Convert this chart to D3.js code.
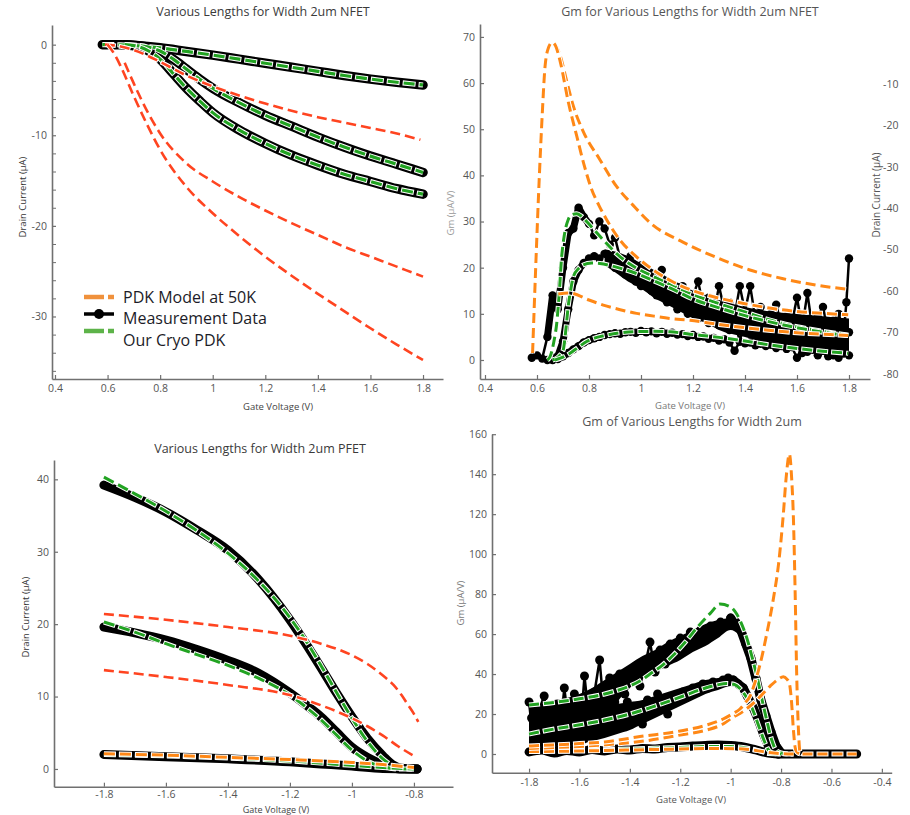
<!DOCTYPE html>
<html><head><meta charset="utf-8">
<script src="https://cdn.jsdelivr.net/npm/d3@7"></script>
<style>body{margin:0;background:#fff}svg{display:block}text{font-family:"Open Sans",sans-serif}</style>
</head><body><svg id="c" width="910" height="815"></svg>
<script>
// ---------- Panel 1: NFET Id ----------
const p1Title = "Various Lengths for Width 2um NFET";
const p1xTicks = [0.4,0.6,0.8,1,1.2,1.4,1.6,1.8];
const p1yTicks = [0,-10,-20,-30];
const p1MeasA = [[0.58,0],[0.6,0],[0.65,-0.02],[0.7,-0.1],[0.8,-0.35],[0.9,-0.75],[1.0,-1.15],[1.1,-1.6],[1.2,-2.05],[1.3,-2.5],[1.4,-2.95],[1.5,-3.4],[1.6,-3.8],[1.7,-4.15],[1.8,-4.45]];
const p1MeasB = [[0.665,0],[0.7,-0.05],[0.75,-0.25],[0.8,-0.7],[0.85,-1.6],[0.9,-2.7],[0.95,-3.8],[1.0,-4.8],[1.1,-6.4],[1.2,-7.8],[1.3,-9.0],[1.4,-10.2],[1.5,-11.3],[1.6,-12.3],[1.7,-13.2],[1.8,-14.1]];
const p1MeasC = [[0.665,0],[0.7,-0.1],[0.75,-0.6],[0.8,-1.6],[0.85,-3.2],[0.9,-4.8],[0.95,-6.2],[1.0,-7.5],[1.1,-9.4],[1.2,-10.9],[1.3,-12.2],[1.4,-13.3],[1.5,-14.3],[1.6,-15.1],[1.7,-15.9],[1.8,-16.5]];
const p1PdkD = [[0.59,0],[0.65,-0.2],[0.7,-0.6],[0.8,-1.9],[0.9,-3.4],[1.0,-4.6],[1.1,-5.6],[1.2,-6.5],[1.3,-7.3],[1.4,-8.0],[1.5,-8.6],[1.6,-9.2],[1.7,-9.8],[1.79,-10.5]];
const p1PdkE = [[0.665,-2.0],[0.7,-4.3],[0.75,-7.3],[0.8,-9.8],[0.9,-13.1],[1.0,-15.1],[1.1,-16.8],[1.2,-18.3],[1.3,-19.7],[1.4,-21.0],[1.5,-22.3],[1.6,-23.4],[1.7,-24.5],[1.8,-25.6]];
const p1PdkF = [[0.6,0],[0.625,-1.0],[0.65,-2.4],[0.7,-5.7],[0.75,-8.8],[0.8,-11.6],[0.9,-15.7],[1.0,-18.6],[1.1,-21.1],[1.2,-23.4],[1.3,-25.5],[1.4,-27.5],[1.5,-29.4],[1.6,-31.3],[1.7,-33.1],[1.8,-34.8]];

// ---------- Panel 2: NFET Gm ----------
const p2Title = "Gm for Various Lengths for Width 2um NFET";
const p2xTicks = [0.4,0.6,0.8,1,1.2,1.4,1.6,1.8];
const p2yTicks = [0,10,20,30,40,50,60,70];
const p2RightTicks = [-10,-20,-30,-40,-50,-60,-70,-80];
const p2PdkO1 = [[0.583,1.5],[0.595,20],[0.609,39.8],[0.62,53],[0.631,63.6],[0.645,67.8],[0.658,68.8],[0.672,68.2],[0.69,65.8],[0.714,60.5],[0.74,55],[0.778,49.5],[0.842,43.4],[0.906,37.6],[0.97,33.5],[1.04,29.5],[1.163,25.5],[1.291,22.2],[1.419,19.5],[1.547,17.6],[1.676,16.2],[1.797,15.3]];
const p2PdkO2 = [[0.583,1.5],[0.595,20],[0.609,39.8],[0.62,53],[0.631,63.6],[0.645,67.8],[0.658,68.8],[0.672,68],[0.69,64.5],[0.72,56],[0.753,48.5],[0.78,42.5],[0.81,37],[0.84,33.3],[0.868,30.4],[0.919,26],[0.98,22.5],[1.047,19.5],[1.12,17],[1.2,15],[1.3,13.4],[1.4,12.2],[1.5,11.2],[1.6,10.5],[1.7,10.1],[1.797,9.8]];
const p2PdkO3 = [[0.682,14.3],[0.727,14.5],[0.8,13.0],[0.855,11.9],[0.92,10.9],[0.983,10.1],[1.05,9.5],[1.112,9.0],[1.188,8.6],[1.3,7.7],[1.4,7.0],[1.5,6.4],[1.6,5.9],[1.7,5.6],[1.797,5.3]];
const p2CryoG1 = [[0.64,0],[0.65,0.7],[0.665,4],[0.676,8],[0.685,14],[0.695,22.4],[0.705,27],[0.72,30.4],[0.735,31.5],[0.753,31.7],[0.77,31.2],[0.791,30],[0.82,28.2],[0.855,26],[0.919,22.4],[0.98,20],[1.047,18.1],[1.12,16.2],[1.2,14.2],[1.3,12.2],[1.4,10.4],[1.5,8.6],[1.6,7.2],[1.7,6.2],[1.797,5.4]];
const p2CryoG2 = [[0.66,0],[0.685,0.8],[0.701,2.2],[0.71,6],[0.72,11.6],[0.73,15.3],[0.74,18.1],[0.76,19.8],[0.778,20.6],[0.81,21],[0.842,20.9],[0.88,20.5],[0.919,19.9],[0.98,18.8],[1.047,17.2],[1.12,15.4],[1.2,13.2],[1.3,11.3],[1.4,9.6],[1.5,8.2],[1.6,7.0],[1.7,6.0],[1.797,5.3]];
const p2CryoG3 = [[0.669,0],[0.7,0.6],[0.727,1.45],[0.76,2.8],[0.791,4.0],[0.83,4.9],[0.868,5.4],[0.92,5.9],[0.983,6.15],[1.05,6.2],[1.112,6.1],[1.188,5.6],[1.3,4.9],[1.4,4.1],[1.496,3.25],[1.6,2.5],[1.7,1.9],[1.797,1.45]];
const p2MeasX1 = [0.58,0.60,0.62,0.64,0.66,0.68,0.70,0.72,0.74,0.76,0.78,0.80,0.82,0.84,0.86,0.88,0.90,0.92,0.94,0.96,0.98,1.00,1.02,1.04,1.06,1.08,1.10,1.12,1.14,1.16,1.18,1.20,1.22,1.24,1.26,1.28,1.30,1.32,1.34,1.36,1.38,1.40,1.42,1.44,1.46,1.48,1.50,1.52,1.54,1.56,1.58,1.60,1.62,1.64,1.66,1.68,1.70,1.72,1.74,1.76,1.78,1.79,1.80];
const p2MeasY1 = [0.5,1.0,0.3,5.0,14.0,11.0,20.0,27.5,28.5,33.0,31.0,29.5,27.0,30.0,28.5,25.0,26.5,22.0,21.0,22.5,19.0,20.5,17.5,18.0,16.5,19.5,14.5,15.5,13.0,16.0,12.5,14.0,17.0,11.5,13.5,10.0,16.0,11.0,12.5,9.5,16.0,10.5,16.0,9.0,11.5,8.5,10.0,12.0,7.5,9.5,8.0,13.5,7.0,14.5,6.5,9.5,11.5,6.0,8.5,10.0,6.0,12.5,22.0];
const p2MeasX2 = [0.64,0.66,0.68,0.70,0.72,0.74,0.76,0.78,0.80,0.82,0.84,0.86,0.88,0.90,0.92,0.94,0.96,0.98,1.00,1.02,1.04,1.06,1.08,1.10,1.12,1.14,1.16,1.18,1.20,1.22,1.24,1.26,1.28,1.30,1.32,1.34,1.36,1.38,1.40,1.42,1.44,1.46,1.48,1.50,1.52,1.54,1.56,1.58,1.60,1.62,1.64,1.66,1.68,1.70,1.72,1.74,1.76,1.78,1.80];
const p2MeasY2 = [0,0.5,0.8,4.0,11.0,17.0,19.5,21.0,22.0,22.5,22.0,23.0,21.5,20.0,21.0,18.5,19.0,17.0,16.0,17.5,15.0,14.0,15.5,12.5,13.0,11.0,12.5,10.0,11.5,9.0,10.5,8.0,9.5,7.5,10.0,6.5,8.5,4.0,9.0,6.0,8.0,5.0,7.5,4.5,8.0,3.5,7.0,4.0,6.5,1.5,7.0,3.0,5.5,2.0,6.0,1.0,5.0,2.5,6.0];
const p2MeasX3 = [0.66,0.68,0.70,0.72,0.74,0.76,0.78,0.80,0.82,0.84,0.86,0.88,0.90,0.92,0.94,0.96,0.98,1.00,1.02,1.04,1.06,1.08,1.10,1.12,1.14,1.16,1.18,1.20,1.22,1.24,1.26,1.28,1.30,1.32,1.34,1.36,1.38,1.40,1.42,1.44,1.46,1.48,1.50,1.52,1.54,1.56,1.58,1.60,1.62,1.64,1.66,1.68,1.70,1.72,1.74,1.76,1.78,1.80];
const p2MeasY3 = [0,0.2,0.8,1.5,2.3,3.0,3.8,4.3,4.7,5.0,5.4,5.6,5.8,5.7,6.0,6.1,5.9,6.3,6.0,6.2,5.8,6.1,5.7,5.9,5.5,5.6,5.2,5.4,5.0,5.1,4.6,4.8,4.2,4.5,3.8,2.0,4.0,3.6,3.8,3.2,3.5,3.0,3.3,2.6,3.0,2.4,2.8,0.5,2.5,1.8,2.2,1.0,2.0,0.8,1.6,0.5,1.4,1.0];
// spread of the dense measured cloud (merged long-channel series)
const p2EnvX  = [0.86,0.90,0.95,1.00,1.05,1.10,1.15,1.20,1.25,1.30,1.40,1.50,1.60,1.70,1.80];
const p2EnvLo = [20.5,19,17,15.5,13.5,12,10.5,9,8,6.5,5,3.5,2.5,1.5,1];
const p2EnvHi = [24,23.5,22.5,21,19.5,18,16.5,15,14,13,11.5,10.5,10,9.5,9];

// ---------- Panel 3: PFET Id ----------
const p3Title = "Various Lengths for Width 2um PFET";
const p3xTicks = [-1.8,-1.6,-1.4,-1.2,-1,-0.8];
const p3yTicks = [0,10,20,30,40];
const p3Meas1 = [[-1.8,39.2],[-1.7,37.5],[-1.6,35.5],[-1.5,33.0],[-1.4,30.2],[-1.3,26.1],[-1.2,20.6],[-1.15,17.4],[-1.1,14.0],[-1.05,10.5],[-1.0,7.2],[-0.95,4.2],[-0.9,1.8],[-0.87,0.6],[-0.84,0.1],[-0.79,0]];
const p3Meas2 = [[-1.8,19.6],[-1.7,18.8],[-1.6,17.8],[-1.5,16.5],[-1.4,15.0],[-1.3,13.2],[-1.2,10.5],[-1.15,8.9],[-1.1,7.2],[-1.05,5.1],[-1.0,3.0],[-0.95,1.6],[-0.9,0.6],[-0.87,0.2],[-0.84,0],[-0.79,0]];
const p3Meas3 = [[-1.8,2.0],[-1.6,1.7],[-1.4,1.4],[-1.2,1.0],[-1.1,0.7],[-1.0,0.4],[-0.9,0.05],[-0.79,0]];
const p3Cryo1 = [[-1.8,40.3],[-1.7,38.0],[-1.6,35.6],[-1.5,32.9],[-1.4,29.8],[-1.3,25.9],[-1.2,20.9],[-1.15,17.8],[-1.1,14.3],[-1.05,10.6],[-1.0,7.0],[-0.95,3.8],[-0.9,1.4],[-0.87,0.5],[-0.84,0.1],[-0.8,0]];
const p3Cryo2 = [[-1.8,20.3],[-1.7,18.9],[-1.6,17.3],[-1.5,15.8],[-1.4,14.3],[-1.3,12.5],[-1.2,10.2],[-1.15,8.6],[-1.1,6.8],[-1.05,4.7],[-1.0,2.6],[-0.95,1.1],[-0.9,0.3],[-0.85,0],[-0.8,0]];
const p3Cryo3 = [[-1.8,2.0],[-1.6,1.8],[-1.4,1.5],[-1.2,1.1],[-1.0,0.5],[-0.9,0.2],[-0.8,0]];
const p3Pdk1 = [[-1.8,21.4],[-1.6,20.6],[-1.4,19.6],[-1.2,18.4],[-1.1,17.3],[-1.0,15.7],[-0.95,14.5],[-0.9,12.9],[-0.866,11.6],[-0.84,10.2],[-0.82,8.9],[-0.8,7.6],[-0.786,6.5]];
const p3Pdk2 = [[-1.8,13.65],[-1.6,12.7],[-1.4,11.6],[-1.2,10.2],[-1.1,8.8],[-1.0,7.0],[-0.95,5.9],[-0.9,4.6],[-0.85,3.1],[-0.8,1.8]];
const p3Pdk3 = [[-1.8,2.1],[-1.6,1.9],[-1.4,1.6],[-1.2,1.3],[-1.0,0.9],[-0.9,0.6],[-0.8,0.2]];

// ---------- Panel 4: PFET Gm ----------
const p4Title = "Gm of Various Lengths for Width 2um";
const p4xTicks = [-1.8,-1.6,-1.4,-1.2,-1,-0.8,-0.6,-0.4];
const p4yTicks = [0,20,40,60,80,100,120,140,160];
const p4Cryo1 = [[-1.8,24.5],[-1.7,25.8],[-1.6,27.6],[-1.5,30],[-1.45,31.8],[-1.4,34],[-1.36,36.5],[-1.32,40],[-1.27,44.5],[-1.227,49.5],[-1.18,56],[-1.128,64],[-1.08,70.5],[-1.042,75],[-1.0,73.5],[-0.976,70],[-0.95,63],[-0.936,58],[-0.916,49],[-0.896,39],[-0.877,28],[-0.857,17],[-0.837,7],[-0.817,1.5],[-0.79,0.3],[-0.75,0]];
const p4Cryo2 = [[-1.8,10],[-1.7,12.5],[-1.604,14.5],[-1.5,17],[-1.386,20.5],[-1.3,24],[-1.188,29],[-1.1,33],[-1.055,34.5],[-1.015,35.3],[-0.985,34.8],[-0.963,32.8],[-0.943,29.5],[-0.923,25.3],[-0.903,19],[-0.883,12],[-0.865,6],[-0.85,2],[-0.83,0.3],[-0.8,0]];
const p4Cryo3 = [[-1.8,1.2],[-1.6,1.8],[-1.4,2.5],[-1.2,3.3],[-1.05,3.8],[-1.0,3.7],[-0.95,3.2],[-0.9,2.0],[-0.87,1.0],[-0.85,0.3],[-0.8,0]];
const p4Pdk1 = [[-1.8,4.0],[-1.6,5.2],[-1.5,6.0],[-1.36,8.7],[-1.2,11.5],[-1.095,14.5],[-1.03,17.5],[-0.99,20.3],[-0.963,22.5],[-0.943,25.5],[-0.923,29],[-0.903,36],[-0.883,45],[-0.857,60],[-0.83,78],[-0.81,95],[-0.791,120],[-0.78,138],[-0.767,150],[-0.758,138],[-0.751,118],[-0.744,80],[-0.738,40],[-0.731,12],[-0.725,1.2],[-0.715,0],[-0.5,0]];
const p4Pdk2 = [[-1.8,2.8],[-1.6,3.8],[-1.5,4.6],[-1.36,6.2],[-1.2,9.5],[-1.095,12],[-1.03,15],[-0.99,18.5],[-0.963,20.3],[-0.923,24],[-0.883,28.7],[-0.843,34],[-0.81,37.5],[-0.791,38.7],[-0.777,37.5],[-0.767,35.3],[-0.758,25.3],[-0.751,12],[-0.745,4],[-0.74,1.5],[-0.73,0.3],[-0.72,0]];
const p4Pdk3 = [[-1.8,1.2],[-1.6,1.5],[-1.4,2.0],[-1.2,2.5],[-1.05,2.8],[-0.95,2.5],[-0.9,1.8],[-0.85,0.8],[-0.8,0.2],[-0.75,0]];
const p4MeasX1 = [-1.80,-1.78,-1.76,-1.74,-1.72,-1.70,-1.68,-1.66,-1.64,-1.62,-1.60,-1.58,-1.56,-1.54,-1.52,-1.50,-1.48,-1.46,-1.44,-1.42,-1.40,-1.38,-1.36,-1.34,-1.32,-1.30,-1.28,-1.26,-1.24,-1.22,-1.20,-1.18,-1.16,-1.14,-1.12,-1.10,-1.08,-1.06,-1.04,-1.02,-1.00,-0.98,-0.96,-0.94,-0.92,-0.90,-0.88,-0.86,-0.84,-0.82,-0.80];
const p4MeasY1 = [26,3,22,29,5,24,8,33,12,30,6,39,15,31,47,18,38,26,40,30,36,42,34,44,56,41,52,45,55,49,58,52,61,55,62,58,64,61,66,64,68,66,62,55,48,38,27,19,11,4,0.5];
const p4MeasX2 = [-1.79,-1.77,-1.75,-1.73,-1.71,-1.69,-1.67,-1.65,-1.63,-1.61,-1.59,-1.57,-1.55,-1.53,-1.51,-1.49,-1.47,-1.45,-1.43,-1.41,-1.39,-1.37,-1.35,-1.33,-1.31,-1.29,-1.27,-1.25,-1.23,-1.21,-1.19,-1.17,-1.15,-1.13,-1.11,-1.09,-1.07,-1.05,-1.03,-1.01,-0.99,-0.97,-0.95,-0.93,-0.91,-0.89,-0.87,-0.85,-0.83,-0.81];
const p4MeasY2 = [18,2,12,20,4,16,10,22,6,19,14,24,9,21,17,25,13,23,18,26,20,24,15,27,22,30,25,20,29,27,31,29,33,31,35,33,36,35,37,38,37,35,33,28,23,17,10,4,0.5,0];
const p4MeasX3 = [-1.80,-1.75,-1.70,-1.65,-1.60,-1.55,-1.50,-1.45,-1.40,-1.35,-1.30,-1.25,-1.20,-1.15,-1.10,-1.05,-1.00,-0.95,-0.90,-0.85,-0.80,-0.75,-0.70,-0.65,-0.60,-0.55,-0.50];
const p4MeasY3 = [1.0,2.0,0.5,1.8,1.0,2.2,1.5,2.5,2.0,2.8,2.5,3.3,3.5,4.0,4.3,4.5,4.2,3.5,2.0,0.5,0,0,0,0,0,0,0];
// spread of the dense measured clouds
const p4Env1X  = [-1.80,-1.75,-1.70,-1.65,-1.60,-1.55,-1.50,-1.45,-1.40,-1.35,-1.30,-1.25,-1.20,-1.15,-1.10,-1.05,-1.00,-0.97];
const p4Env1Lo = [1,1,2,3,4,8,16,26,33,38,41,44,47,51,54,58,62,60];
const p4Env1Hi = [24,25,27,28,30,33,37,41,45,49,52,56,59,62,65,67,68,66];
const p4Env2X  = [-1.80,-1.70,-1.60,-1.50,-1.45,-1.40,-1.35,-1.30,-1.25,-1.20,-1.15,-1.10,-1.05,-1.00,-0.97];
const p4Env2Lo = [2,3,5,8,10,12,15,18,21,24,27,30,32,34,33];
const p4Env2Hi = [16,18,21,24,25,26,27,29,31,33,35,37,38,39,37];

// ---------- Legend ----------
const legendLabels = ["PDK Model at 50K","Measurement Data","Our Cryo PDK"];

// ================= drawing =================
const svg = d3.select("#c");
const ORANGE = "#ff8816", RED = "#ff4420", GREEN = "#22a322";
const fmt = d => String(+(+d).toFixed(2));
const zip = (xs, ys) => xs.map((x,i) => [x, ys[i]]);

function makeAxes(g, sx, sy, xt, yt, minorY, xpad) {
  const ax = g.append("g").attr("transform", `translate(0,${sy.range()[0]})`)
    .call(d3.axisBottom(sx).tickValues(xt).tickFormat(fmt).tickSizeInner(-4).tickSizeOuter(0).tickPadding(xpad || 6));
  const ay = g.append("g").attr("transform", `translate(${sx.range()[0]},0)`)
    .call(d3.axisLeft(sy).tickValues(yt).tickFormat(fmt).tickSizeInner(-4).tickSizeOuter(0).tickPadding(5));
  [ax, ay].forEach(a => {
    a.select(".domain").attr("stroke", "#707070").attr("stroke-width", 1.6);
    a.selectAll(".tick line").attr("stroke", "#707070").attr("stroke-width", 1.2);
    a.selectAll("text").attr("fill", "#555").attr("font-size", 10.5).attr("font-family", "Open Sans");
  });
  if (minorY) {
    g.append("g").attr("transform", `translate(${sx.range()[0]},0)`)
      .call(d3.axisRight(sy).tickValues(minorY).tickFormat("").tickSizeOuter(0).tickSizeInner(4))
      .call(a => { a.select(".domain").remove(); a.selectAll("line").attr("stroke", "#707070"); });
  }
}
function text(g, s, x, y, size, fill, rot) {
  const t = g.append("text").attr("x", x).attr("y", y).attr("text-anchor", "middle")
    .attr("font-size", size).attr("fill", fill).text(s);
  if (rot) t.attr("transform", `rotate(-90,${x},${y})`);
  return t;
}
function thick(g, pts, sx, sy, w, curve) {
  g.append("path").attr("d", d3.line().x(d=>sx(d[0])).y(d=>sy(d[1])).curve(curve || d3.curveMonotoneX)(pts))
    .attr("fill","none").attr("stroke","#000").attr("stroke-width", w).attr("stroke-linecap","round").attr("stroke-linejoin","round");
}
function noisy(g, pts, sx, sy, r, lw) {
  g.append("path").attr("d", d3.line().x(d=>sx(d[0])).y(d=>sy(d[1]))(pts))
    .attr("fill","none").attr("stroke","#000").attr("stroke-width", lw);
  g.selectAll(null).data(pts).enter().append("circle")
    .attr("cx", d=>sx(d[0])).attr("cy", d=>sy(d[1])).attr("r", r).attr("fill","#000");
}
function cloud(g, xs, lo, hi, sx, sy) {
  const pts = xs.map((x,i) => [x, lo[i], hi[i]]);
  g.append("path").attr("d", d3.area().x(d=>sx(d[0])).y0(d=>sy(d[1])).y1(d=>sy(d[2])).curve(d3.curveMonotoneX)(pts))
    .attr("fill", "#000");
}
function dashed(g, pts, sx, sy, color, w, da) {
  const d = d3.line().x(p=>sx(p[0])).y(p=>sy(p[1])).curve(d3.curveMonotoneX)(pts);
  g.append("path").attr("d", d).attr("fill","none").attr("stroke","#fff").attr("stroke-width", w+2)
    .attr("stroke-dasharray", `${da[0]+2} ${da[1]-2}`).attr("stroke-dashoffset", 1);
  g.append("path").attr("d", d).attr("fill","none").attr("stroke",color).attr("stroke-width", w)
    .attr("stroke-dasharray", `${da[0]} ${da[1]}`);
}

// ---- Panel 1
{
  const g = svg.append("g");
  const sx = d3.scaleLinear().domain([0.3886,1.876]).range([52,443]);
  const sy = d3.scaleLinear().domain([-36.9,2.17]).range([379,25]);
  makeAxes(g, sx, sy, p1xTicks, p1yTicks, d3.range(-36,1,2).filter(v => v % 10 !== 0));
  text(g, p1Title, 263, 16, 12.5, "#3a3a3a");
  text(g, "Drain Current (\u00b5A)", 26, 197, 9.5, "#333", true);
  text(g, "Gate Voltage (V)", 278, 410, 9.5, "#444");
  [p1MeasA, p1MeasB, p1MeasC].forEach(s => thick(g, s, sx, sy, 9.5));
  [p1MeasA, p1MeasB, p1MeasC].forEach(s => dashed(g, s, sx, sy, GREEN, 3.2, [11,5]));
  dashed(g, p1PdkD, sx, sy, RED, 2.6, [10,5]);
  dashed(g, p1PdkE, sx, sy, RED, 2.6, [10,5]);
  dashed(g, p1PdkF, sx, sy, RED, 2.6, [10,5]);
  // legend
  const lg = g.append("g");
  const ly = [297, 314, 331];
  lg.append("line").attr("x1",84).attr("x2",104).attr("y1",ly[0]).attr("y2",ly[0]).attr("stroke","#f0913c").attr("stroke-width",4.5);
  lg.append("line").attr("x1",108).attr("x2",114).attr("y1",ly[0]).attr("y2",ly[0]).attr("stroke","#f0913c").attr("stroke-width",4.5);
  lg.append("line").attr("x1",84).attr("x2",114).attr("y1",ly[1]).attr("y2",ly[1]).attr("stroke","#000").attr("stroke-width",3.5);
  lg.append("circle").attr("cx",99).attr("cy",ly[1]).attr("r",5).attr("fill","#000");
  lg.append("line").attr("x1",84).attr("x2",104).attr("y1",ly[2]).attr("y2",ly[2]).attr("stroke","#5db349").attr("stroke-width",4.5);
  lg.append("line").attr("x1",108).attr("x2",114).attr("y1",ly[2]).attr("y2",ly[2]).attr("stroke","#5db349").attr("stroke-width",4.5);
  legendLabels.forEach((s,i) => lg.append("text").attr("x",123).attr("y",[303,324,346][i])
    .attr("font-family","Lato").attr("font-size",16).attr("fill","#1c1c28").text(s));
}

// ---- Panel 2
{
  const g = svg.append("g");
  const sx = d3.scaleLinear().domain([0.3808,1.8808]).range([480,870]);
  const sy = d3.scaleLinear().domain([-4.12,72.8]).range([379,24]);
  makeAxes(g, sx, sy, p2xTicks, p2yTicks);
  text(g, p2Title, 690, 16, 12.5, "#555");
  text(g, "Gm (\u00b5A/V)", 454, 213, 9.5, "#999", true);
  text(g, "Gate Voltage (V)", 690, 409, 9.5, "#777");
  text(g, "Drain Current (\u00b5A)", 880, 195, 10, "#555", true);
  const rs = d3.scaleLinear().domain([-10,-80]).range([84,374]);
  g.selectAll(null).data(p2RightTicks).enter().append("text")
    .attr("x", 883).attr("y", d => rs(d)).attr("dy", "0.35em").attr("font-size", 10.5).attr("fill", "#555").text(fmt);
  cloud(g, p2EnvX, p2EnvLo, p2EnvHi, sx, sy);
  const m1 = zip(p2MeasX1, p2MeasY1), m2 = zip(p2MeasX2, p2MeasY2), m3 = zip(p2MeasX3, p2MeasY3);
  thick(g, m1.slice(3, 12), sx, sy, 7, d3.curveLinear);
  thick(g, m2.slice(2, 8), sx, sy, 7, d3.curveLinear);
  thick(g, m3.slice(0, 10), sx, sy, 7, d3.curveLinear);
  noisy(g, m3, sx, sy, 4.2, 2.5);
  noisy(g, m2, sx, sy, 4.2, 2.5);
  noisy(g, m1, sx, sy, 4.2, 2.5);
  [p2CryoG1, p2CryoG2, p2CryoG3].forEach(s => dashed(g, s, sx, sy, GREEN, 3, [10,5]));
  [p2PdkO1, p2PdkO2, p2PdkO3].forEach(s => dashed(g, s, sx, sy, ORANGE, 3, [10,5]));
}

// ---- Panel 3
{
  const g = svg.append("g");
  const sx = d3.scaleLinear().domain([-1.961,-0.674]).range([54,453]);
  const sy = d3.scaleLinear().domain([-2.45,42.67]).range([786.7,460]);
  makeAxes(g, sx, sy, p3xTicks, p3yTicks, null, 4);
  text(g, p3Title, 260, 453, 12.5, "#3a3a3a");
  text(g, "Drain Current (\u00b5A)", 29, 617, 9.5, "#333", true);
  text(g, "Gate Voltage (V)", 276, 813, 9, "#444");
  [p3Meas1, p3Meas2, p3Meas3].forEach(s => thick(g, s, sx, sy, 9));
  [p3Cryo1, p3Cryo2, p3Cryo3].forEach(s => dashed(g, s, sx, sy, GREEN, 3, [11,5]));
  dashed(g, p3Pdk3, sx, sy, ORANGE, 3, [11,5]);
  dashed(g, p3Pdk1, sx, sy, RED, 2.6, [10,5]);
  dashed(g, p3Pdk2, sx, sy, RED, 2.6, [10,5]);
}

// ---- Panel 4
{
  const g = svg.append("g");
  const sx = d3.scaleLinear().domain([-1.947,-0.361]).range([492,891.7]);
  const sy = d3.scaleLinear().domain([-9.36,160.1]).range([772.7,434]);
  makeAxes(g, sx, sy, p4xTicks, p4yTicks);
  text(g, p4Title, 692, 426, 12.5, "#555");
  text(g, "Gm (\u00b5A/V)", 464, 603, 9.5, "#777", true);
  text(g, "Gate Voltage (V)", 691, 803, 9.5, "#555");
  cloud(g, p4Env1X, p4Env1Lo, p4Env1Hi, sx, sy);
  cloud(g, p4Env2X, p4Env2Lo, p4Env2Hi, sx, sy);
  thick(g, zip(p4MeasX3, p4MeasY3), sx, sy, 9);
  const d1 = zip(p4MeasX1, p4MeasY1), d2 = zip(p4MeasX2, p4MeasY2);
  thick(g, d1.slice(40), sx, sy, 9, d3.curveLinear);
  thick(g, d2.slice(40), sx, sy, 9, d3.curveLinear);
  noisy(g, d2, sx, sy, 4.5, 2.5);
  noisy(g, d1, sx, sy, 4.5, 2.5);
  [p4Cryo1, p4Cryo2, p4Cryo3].forEach(s => dashed(g, s, sx, sy, GREEN, 3, [10,5]));
  [p4Pdk3, p4Pdk2, p4Pdk1].forEach(s => dashed(g, s, sx, sy, ORANGE, 3, [10,5]));
}
</script></body></html>
